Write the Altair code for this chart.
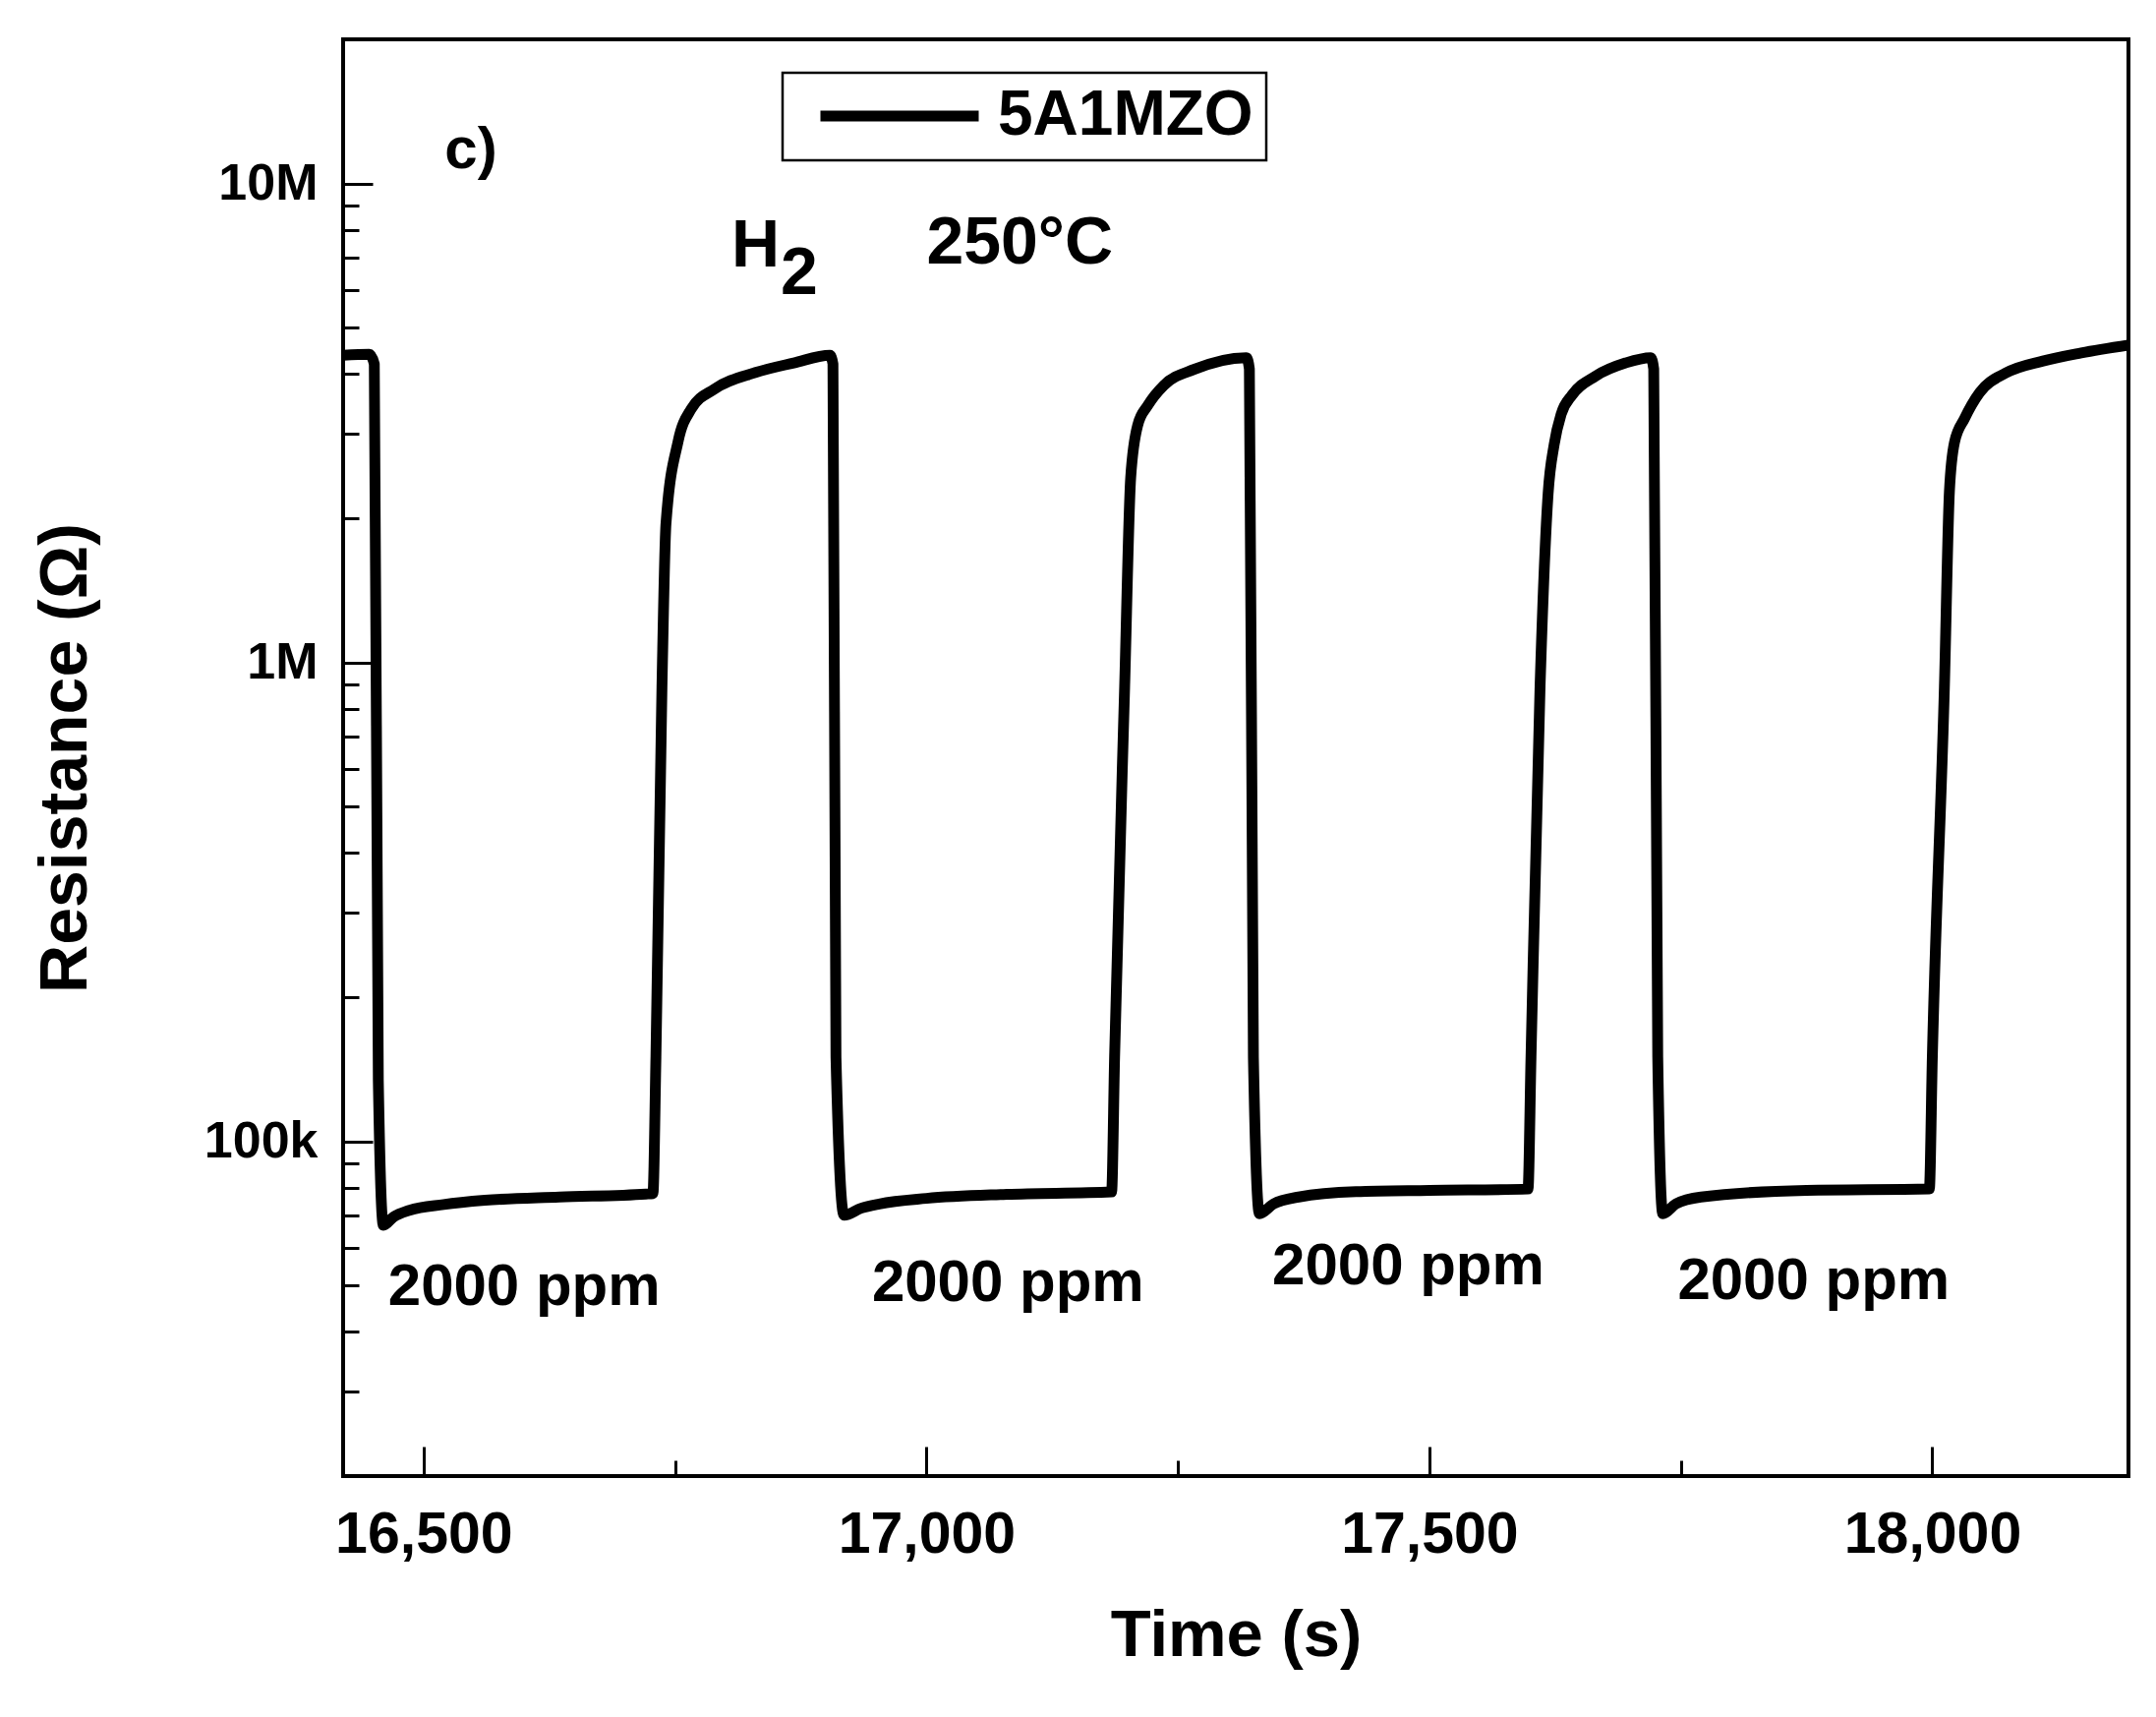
import altair as alt
import pandas as pd

# ---------------------------------------------------------------------------
# Data (time in s, resistance in ohm)
# ---------------------------------------------------------------------------
time_s = [
    16420, 16446, 16451, 16455, 16460, 16470, 16486, 16520, 16561, 16635, 16721, 16728,
    16731, 16737, 16741, 16753, 16766, 16789, 16830, 16868, 16904,
    16907, 16910, 16918, 16935, 16953, 17000, 17080, 17184,
    17187, 17197, 17203, 17210, 17220, 17236, 17266, 17318,
    17321, 17325, 17331, 17345, 17370, 17427, 17500, 17598,
    17601, 17610, 17618, 17624, 17631, 17642, 17665, 17695, 17720,
    17723, 17727, 17732, 17745, 17770, 17875, 17997,
    18000, 18012, 18017, 18022, 18032, 18047, 18073, 18110, 18148, 18195,
]
resistance = [
    4.38e6, 4.40e6, 4.2e6, 1.34e5, 6.68e4, 6.95e4, 7.18e4, 7.38e4, 7.53e4, 7.65e4, 7.76e4, 7.78e4,
    1.5e5, 8.9e5, 1.95e6, 2.89e6, 3.38e6, 3.72e6, 4.03e6, 4.22e6, 4.38e6,
    4.2e6, 1.5e5, 7.01e4, 7.25e4, 7.4e4, 7.6e4, 7.75e4, 7.84e4,
    1.5e5, 8.9e5, 2.43e6, 3.13e6, 3.44e6, 3.79e6, 4.09e6, 4.33e6,
    4.1e6, 1.5e5, 7.06e4, 7.4e4, 7.65e4, 7.85e4, 7.9e4, 7.95e4,
    1.5e5, 8.9e5, 2.25e6, 2.85e6, 3.3e6, 3.62e6, 3.96e6, 4.22e6, 4.33e6,
    4.1e6, 1.5e5, 7.06e4, 7.4e4, 7.65e4, 7.9e4, 7.95e4,
    1.5e5, 8.9e5, 2.28e6, 2.88e6, 3.23e6, 3.66e6, 4.02e6, 4.26e6, 4.43e6, 4.6e6,
]
sample_name = "5A1MZO"

# concentration labels under each exposure
ppm_labels = ["2000 ppm", "2000 ppm", "2000 ppm", "2000 ppm"]
ppm_time = [16600, 17081, 17479, 17882]
ppm_res = [45.6e3, 46.5e3, 50.3e3, 46.9e3]

# other annotations
panel_label, panel_time, panel_res = ["c)"], [16521], [10.79e6]
gas_labels = ["H", "2", "250°C"]
gas_time = [16806, 16855, 17000]
gas_res = [6.72e6, 5.89e6, 6.82e6]

# axis ticks
x_major = [16500, 17000, 17500, 18000]
x_minor = [16750, 17250, 17750]
y_major = [1e5, 1e6, 1e7]
y_minor = [3e4, 4e4, 5e4, 6e4, 7e4, 8e4, 9e4,
           2e5, 3e5, 4e5, 5e5, 6e5, 7e5, 8e5, 9e5,
           2e6, 3e6, 4e6, 5e6, 6e6, 7e6, 8e6, 9e6]

df = pd.DataFrame({"t": time_s, "r": resistance, "sample": sample_name})
ppm_df = pd.DataFrame({"t": ppm_time, "r": ppm_res, "label": ppm_labels})
panel_df = pd.DataFrame({"t": panel_time, "r": panel_res, "label": panel_label})
gas_df = pd.DataFrame({"t": gas_time, "r": gas_res, "label": gas_labels})

W, H = 1816, 1461
FONT = "Liberation Sans"
x_scale = alt.Scale(domain=[16420, 18195], nice=False, zero=False)
y_scale = alt.Scale(type="log", domain=[2e4, 2e7], nice=False)

# ---------------------------------------------------------------------------
# Data line with label axes and legend
# ---------------------------------------------------------------------------
line = alt.Chart(df).mark_line(
    interpolate="monotone", strokeWidth=11, strokeJoin="round", strokeCap="round", clip=True
).encode(
    x=alt.X("t:Q", scale=x_scale, axis=alt.Axis(
        title="Time (s)", values=x_major, format=",d", ticks=False, domain=False, grid=False,
        labelFont=FONT, labelFontSize=59, labelFontWeight="bold", labelColor="black",
        labelPadding=30, labelFlush=False, labelLimit=1000,
        titleFont=FONT, titleFontSize=67, titleFontWeight="bold", titleColor="black",
        titlePadding=40)),
    y=alt.Y("r:Q", scale=y_scale, axis=alt.Axis(
        title="Resistance (Ω)", values=y_major, format="~s", ticks=False, domain=False, grid=False,
        labelFont=FONT, labelFontSize=52, labelFontWeight="bold", labelColor="black",
        labelPadding=26,
        titleFont=FONT, titleFontSize=68, titleFontWeight="bold", titleColor="black",
        titlePadding=106)),
    color=alt.Color("sample:N", scale=alt.Scale(range=["black"]), legend=alt.Legend(
        title=None, orient="none", legendX=447, legendY=34,
        symbolType="stroke", symbolSize=25921, symbolStrokeWidth=11, symbolStrokeColor="black",
        clipHeight=62, symbolOffset=20, labelOffset=14, labelLimit=1000,
        labelFont=FONT, labelFontSize=64, labelFontWeight="bold", labelColor="black",
        padding=13, strokeColor="black", fillColor="white")),
)


# inward ticks: axes placed on the opposite edge with a negative offset
def tick_layer(xv, yv, size):
    return alt.Chart(df).mark_line(strokeOpacity=0).encode(
        x=alt.X("t:Q", scale=x_scale, axis=alt.Axis(
            orient="top", offset=-H, values=xv, tickSize=size, tickWidth=3, tickColor="black",
            labels=False, domain=False, grid=False, title=None)),
        y=alt.Y("r:Q", scale=y_scale, axis=alt.Axis(
            orient="right", offset=-W, values=yv, tickSize=size, tickWidth=3, tickColor="black",
            labels=False, domain=False, grid=False, title=None)),
    )


major_ticks = tick_layer(x_major, y_major, 30)
minor_ticks = tick_layer(x_minor, y_minor, 16)


def text_layer(data, size, align):
    return alt.Chart(data).mark_text(
        font=FONT, fontWeight="bold", fontSize=size, align=align,
        baseline="alphabetic", color="black",
    ).encode(
        x=alt.X("t:Q", scale=x_scale, axis=None),
        y=alt.Y("r:Q", scale=y_scale, axis=None),
        text="label:N",
    )


ppm_text = text_layer(ppm_df, 60, "center")
panel_text = text_layer(panel_df, 60, "left")
gas_text = text_layer(gas_df, 68, "left")

chart = alt.layer(
    line, major_ticks, minor_ticks, ppm_text, panel_text, gas_text
).resolve_axis(
    x="independent", y="independent"
).properties(
    width=W,
    height=H,
    autosize=alt.AutoSizeParams(type="none"),
    padding={"left": 341, "top": 32, "right": 20, "bottom": 230},
).configure_view(
    stroke="black", strokeWidth=4,
).configure_legend(
    strokeWidth=2.5,
)

chart.save("out.html", embed_options={"renderer": "svg", "actions": False})
